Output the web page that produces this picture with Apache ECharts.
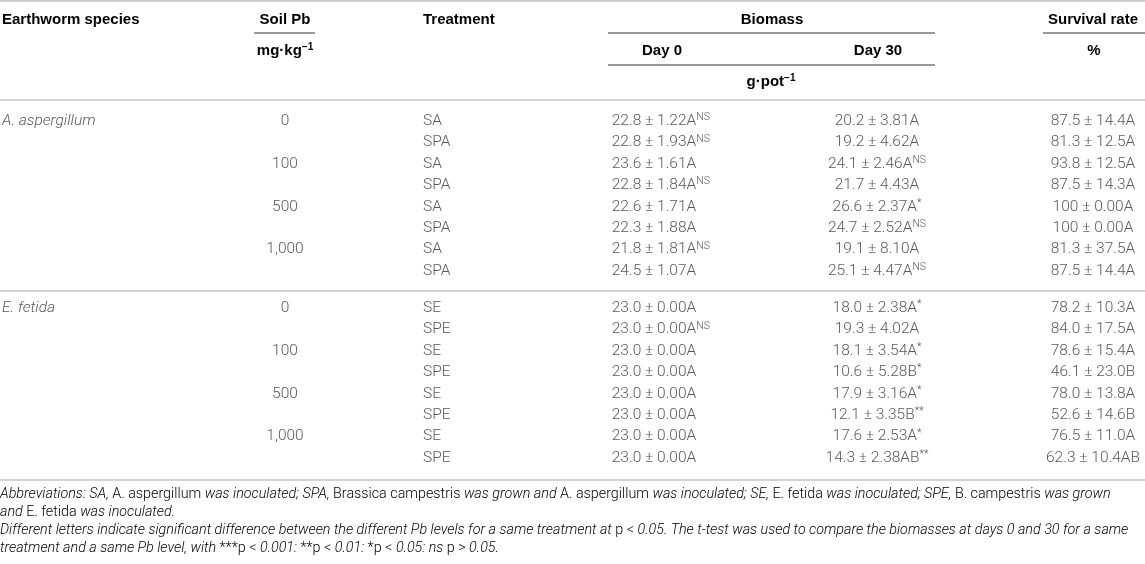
<!DOCTYPE html>
<html>
<head>
<meta charset="utf-8">
<script src="https://cdn.jsdelivr.net/npm/echarts@6/dist/echarts.min.js"></script>
<style>
  html, body { margin: 0; padding: 0; background: #fff; }
  #main { width: 1145px; height: 564px; }
</style>
</head>
<body>
<div id="main"></div>
<script>
// 表格数据
const speciesNames = ['A. aspergillum', 'E. fetida'];
const soilPbLevels = ['0', '100', '500', '1,000'];
const treatments = ['SA', 'SPA', 'SA', 'SPA', 'SA', 'SPA', 'SA', 'SPA',
                    'SE', 'SPE', 'SE', 'SPE', 'SE', 'SPE', 'SE', 'SPE'];

const day0Mean = [22.8, 22.8, 23.6, 22.8, 22.6, 22.3, 21.8, 24.5,
                  23.0, 23.0, 23.0, 23.0, 23.0, 23.0, 23.0, 23.0];
const day0Sd = [1.22, 1.93, 1.61, 1.84, 1.71, 1.88, 1.81, 1.07,
                0.00, 0.00, 0.00, 0.00, 0.00, 0.00, 0.00, 0.00];
const day0Group = ['A', 'A', 'A', 'A', 'A', 'A', 'A', 'A',
                   'A', 'A', 'A', 'A', 'A', 'A', 'A', 'A'];
const day0Sig = ['NS', 'NS', '', 'NS', '', '', 'NS', '',
                 '', 'NS', '', '', '', '', '', ''];

const day30Mean = [20.2, 19.2, 24.1, 21.7, 26.6, 24.7, 19.1, 25.1,
                   18.0, 19.3, 18.1, 10.6, 17.9, 12.1, 17.6, 14.3];
const day30Sd = [3.81, 4.62, 2.46, 4.43, 2.37, 2.52, 8.10, 4.47,
                 2.38, 4.02, 3.54, 5.28, 3.16, 3.35, 2.53, 2.38];
const day30Group = ['A', 'A', 'A', 'A', 'A', 'A', 'A', 'A',
                    'A', 'A', 'A', 'B', 'A', 'B', 'A', 'AB'];
const day30Sig = ['', '', 'NS', '', '*', 'NS', '', 'NS',
                  '*', '', '*', '*', '*', '**', '*', '**'];

const survivalMean = [87.5, 81.3, 93.8, 87.5, 100, 100, 81.3, 87.5,
                      78.2, 84.0, 78.6, 46.1, 78.0, 52.6, 76.5, 62.3];
const survivalSd = [14.4, 12.5, 12.5, 14.3, 0, 0, 37.5, 14.4,
                    10.3, 17.5, 15.4, 23.0, 13.8, 14.6, 11.0, 10.4];
const survivalGroup = ['A', 'A', 'A', 'A', 'A', 'A', 'A', 'A',
                       'A', 'A', 'A', 'B', 'A', 'B', 'A', 'AB'];

// 版式参数
const FONT = 'Roboto, "Liberation Sans", Arial, sans-serif';
const HEAD_FONT = '"Liberation Sans", Arial, Helvetica, sans-serif';
const TXT = '#2e2e2e';
const groupGap = 0.74;
const colX = { species: 2, pb: 285, treat: 423, day0: 654, day30: 877, surv: 1093 };

function rowY(i) {
  return i + (i >= 8 ? groupGap : 0);
}

function fmtMean(v) {
  return v === 100 ? '100' : v.toFixed(1);
}

function fmtSurvSd(v) {
  return v === 0 ? '0.00' : v.toFixed(1);
}

const supStyle = { fontFamily: FONT, fontSize: 10.5, fontWeight: 300, color: TXT, lineHeight: 10, verticalAlign: 'top' };
const bodyRich = {
  v: { fontFamily: FONT, fontSize: 15.5, fontWeight: 300, color: TXT, lineHeight: 18 },
  s: supStyle,
  h: Object.assign({}, supStyle, { color: 'rgba(0,0,0,0)' }),
  it: { fontFamily: FONT, fontSize: 15.5, fontWeight: 300, fontStyle: 'italic', color: TXT, lineHeight: 18 }
};

// balanced: 上标不参与居中（左侧补一个透明占位）
function cellText(main, sig, balanced) {
  if (!sig) return '{v|' + main + '}';
  return (balanced ? '{h|' + sig + '}' : '') + '{v|' + main + '}{s|' + sig + '}';
}

function textSeries(name, data, align) {
  return {
    name: name,
    type: 'scatter',
    symbolSize: 1,
    itemStyle: { color: 'rgba(0,0,0,0)' },
    silent: true,
    data: data,
    label: {
      show: true,
      position: 'inside',
      align: align,
      verticalAlign: 'middle',
      formatter: function (p) { return p.data.label; },
      rich: bodyRich
    }
  };
}

const speciesData = speciesNames.map((s, g) => ({ value: [colX.species, rowY(g * 8)], label: '{it|' + s + '}' }));
const pbData = [];
for (let g = 0; g < 2; g++) {
  soilPbLevels.forEach((p, k) => pbData.push({ value: [colX.pb, rowY(g * 8 + k * 2)], label: '{v|' + p + '}' }));
}
const treatData = treatments.map((t, i) => ({ value: [colX.treat, rowY(i)], label: '{v|' + t + '}' }));
const day0Data = day0Mean.map((m, i) => ({
  value: [colX.day0, rowY(i)],
  label: cellText(m.toFixed(1) + ' ± ' + day0Sd[i].toFixed(2) + day0Group[i], day0Sig[i], true)
}));
const day30Data = day30Mean.map((m, i) => ({
  value: [colX.day30, rowY(i)],
  label: cellText(m.toFixed(1) + ' ± ' + day30Sd[i].toFixed(2) + day30Group[i], day30Sig[i], false)
}));
const survData = survivalMean.map((m, i) => ({
  value: [colX.surv, rowY(i)],
  label: cellText(fmtMean(m) + ' ± ' + fmtSurvSd(survivalSd[i]) + survivalGroup[i], '', false)
}));

// 表头与注释
const headRich = {
  b: { fontFamily: HEAD_FONT, fontSize: 15, fontWeight: 'bold', color: '#1a1a1a', lineHeight: 18 },
  sp: { fontFamily: HEAD_FONT, fontSize: 10, fontWeight: 'bold', color: '#1a1a1a', lineHeight: 10, verticalAlign: 'top' }
};

function headText(text, x, y, align) {
  return {
    type: 'text', x: x, y: y,
    style: { text: text, align: align, verticalAlign: 'middle', rich: headRich }
  };
}

function rule(x1, x2, y, color, w) {
  return { type: 'line', shape: { x1: x1, y1: y, x2: x2, y2: y }, style: { stroke: color, lineWidth: w } };
}

const noteRich = {
  i: { fontFamily: FONT, fontSize: 14.3, fontWeight: 300, fontStyle: 'italic', color: '#383838' },
  n: { fontFamily: FONT, fontSize: 14.3, fontWeight: 300, color: '#383838' }
};
const noteLines = [
  '{i|Abbreviations: SA,}{n| A. aspergillum }{i|was inoculated; SPA,}{n| Brassica campestris }{i|was grown and}{n| A. aspergillum }{i|was inoculated; SE,}{n| E. fetida }{i|was inoculated; SPE,}{n| B. campestris }{i|was grown}',
  '{i|and}{n| E. fetida }{i|was inoculated.}',
  '{i|Different letters indicate significant difference between the different Pb levels for a same treatment at}{n| p < }{i|0.05. The t-test was used to compare the biomasses at days 0 and 30 for a same}',
  '{i|treatment and a same Pb level, with }{n|***p < }{i|0.001: }{n|**p < }{i|0.01: }{n|*p < }{i|0.05: ns }{n|p > }{i|0.05.}'
];
const noteY = [494, 512, 530, 548];

const graphics = [
  rule(0, 1145, 1, '#bdbdbd', 1.5),
  rule(254, 315, 33, '#333', 1),
  rule(608, 935, 33, '#333', 1),
  rule(1043, 1145, 33, '#333', 1),
  rule(608, 935, 65, '#333', 1),
  rule(0, 1145, 100, '#c4c4c4', 1.5),
  rule(0, 1145, 291, '#c4c4c4', 1.5),
  rule(0, 1145, 480, '#c4c4c4', 1.5),
  headText('{b|Earthworm species}', 2, 20, 'left'),
  headText('{b|Soil Pb}', 285, 20, 'center'),
  headText('{b|mg·kg}{sp|−1}', 285, 51, 'center'),
  headText('{b|Treatment}', 423, 20, 'left'),
  headText('{b|Biomass}', 772, 20, 'center'),
  headText('{b|Day 0}', 662, 51, 'center'),
  headText('{b|Day 30}', 878, 51, 'center'),
  headText('{b|g·pot}{sp|−1}', 771, 82, 'center'),
  headText('{b|Survival rate}', 1093, 20, 'center'),
  headText('{b|%}', 1094, 51, 'center')
];
noteLines.forEach((t, k) => {
  graphics.push({
    type: 'text', x: 0, y: noteY[k],
    style: { text: t, align: 'left', verticalAlign: 'middle', rich: noteRich }
  });
});

const chart = echarts.init(document.getElementById('main'), null, { renderer: 'canvas' });
chart.setOption({
  backgroundColor: '#fff',
  animation: false,
  grid: { left: 0, right: 0, top: 121, height: 337 },
  xAxis: { type: 'value', min: 0, max: 1145, show: false },
  yAxis: { type: 'value', min: 0, max: 15 + groupGap, inverse: true, show: false },
  series: [
    textSeries('species', speciesData, 'left'),
    textSeries('soilPb', pbData, 'center'),
    textSeries('treatment', treatData, 'left'),
    textSeries('day0', day0Data, 'center'),
    textSeries('day30', day30Data, 'center'),
    textSeries('survival', survData, 'center')
  ],
  graphic: { elements: graphics }
});
</script>
</body>
</html>
